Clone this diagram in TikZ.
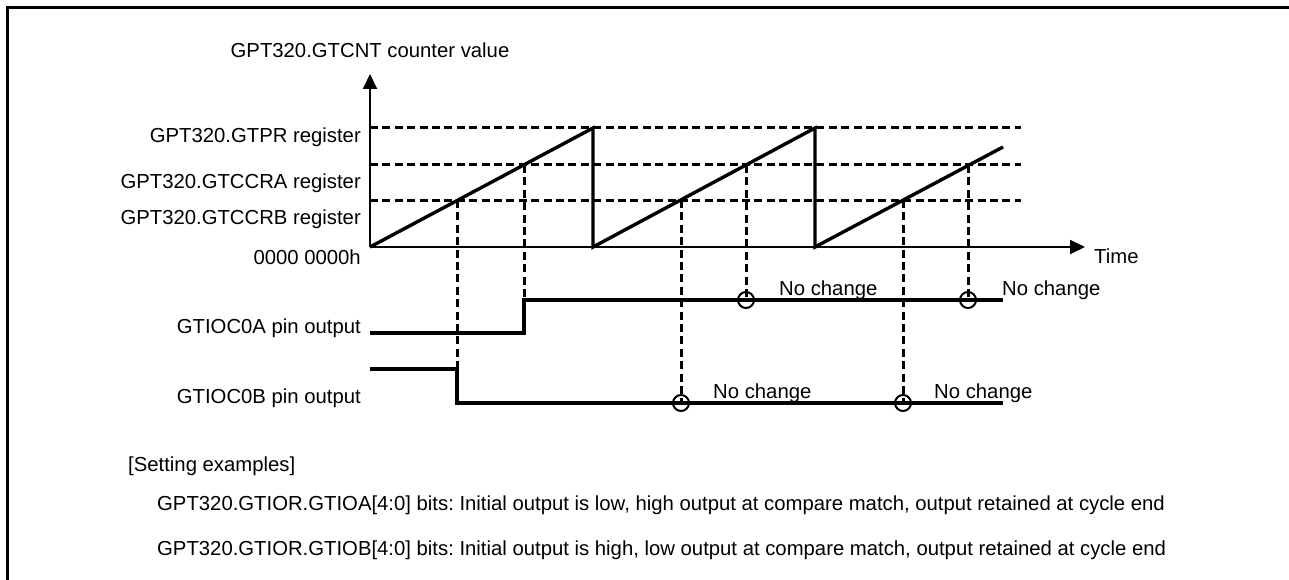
\documentclass[tikz,border=0pt]{standalone}
\usepackage{fontspec}
\setmainfont{Liberation Sans}
\frenchspacing
\usetikzlibrary{arrows.meta,positioning,calc}

\begin{document}
\begin{tikzpicture}[x=1pt, y=-1pt,
  lbl/.style={font=\fontsize{20.3}{24}\selectfont, inner sep=0pt},
  axis/.style={line width=2pt, -{Triangle[length=15pt, width=14pt]}},
  wave/.style={line width=3.4pt, line join=miter},
  guide/.style={line width=3pt, dash pattern=on 8pt off 4.4pt},
  ring/.style={draw, circle, line width=2pt, minimum size=16pt, inner sep=0pt}
]
  \useasboundingbox (0,0) rectangle (1289,580);
  \draw[line width=3pt, line join=miter] (7,580) -- (7,7.5) -- (1289,7.5);

  % axes
  \coordinate (O)    at (370,247);
  \coordinate (ytop) at (370,74);
  \coordinate (xend) at (1085,247);
  \draw[axis] (O) -- (ytop);
  \draw[axis] (O) -- (xend);
  \node[lbl, anchor=base]      (ttl)  at (370,58)  {GPT320.GTCNT counter value};
  \node[lbl, anchor=base west] (time) at (1094,263) {Time};

  % register levels
  \coordinate (pr) at (1021,128);
  \coordinate (ra) at (1021,165);
  \coordinate (rb) at (1021,200);
  \draw[guide] (O |- pr) -- (pr);
  \draw[guide] (O |- ra) -- (ra);
  \draw[guide] (O |- rb) -- (rb);
  \node[lbl, anchor=base east] (lpr)  at (361,143) {GPT320.GTPR register};
  \node[lbl, anchor=base east] (lra)  at (361,189) {GPT320.GTCCRA register};
  \node[lbl, anchor=base east] (lrb)  at (361,224) {GPT320.GTCCRB register};
  \node[lbl, anchor=base east] (lzero) at (361,264) {0000 0000h};

  % counter
  \coordinate (p1) at (593,128);
  \coordinate (p2) at (815,128);
  \coordinate (p3) at (1003,147);
  \draw[wave] (O) -- (p1) -- (p1 |- O) -- (p2) -- (p2 |- O) -- (p3);

  % compare match points
  \coordinate (b1) at (457,200);
  \coordinate (a1) at (524,165);
  \coordinate (b2) at (681,200);
  \coordinate (a2) at (746,165);
  \coordinate (b3) at (903,200);
  \coordinate (a3) at (968,165);

  % pin outputs
  \coordinate (Alow)  at (370,333);
  \coordinate (Ahigh) at (1003,300);
  \coordinate (Bhigh) at (370,369);
  \coordinate (Blow)  at (1003,403);
  \node[lbl, anchor=base east] (lpa) at (361,333) {GTIOC0A pin output};
  \node[lbl, anchor=base east] (lpb) at (361,403) {GTIOC0B pin output};
  \draw[wave] (Alow) -- (Alow -| a1) -- (a1 |- Ahigh) -- (Ahigh);
  \draw[wave] (Bhigh) -- (Bhigh -| b1) -- (b1 |- Blow) -- (Blow);

  \node[ring] (ca2) at (a2 |- Ahigh) {};
  \node[ring] (ca3) at (a3 |- Ahigh) {};
  \node[ring] (cb2) at (b2 |- Blow) {};
  \node[ring] (cb3) at (b3 |- Blow) {};

  \draw[guide] (b1) -- (b1 |- Bhigh);
  \draw[guide] (a1) -- (a1 |- Ahigh);
  \draw[guide] (a2) -- (ca2.center);
  \draw[guide] (a3) -- (ca3.center);
  \draw[guide] (b2) -- (cb2.center);
  \draw[guide] (b3) -- (cb3.center);

  \node[lbl, anchor=base west] (nca2) at ([xshift=24pt, yshift=5pt]ca2.east) {No change};
  \node[lbl, anchor=base west] (nca3) at ([xshift=25pt, yshift=5pt]ca3.east) {No change};
  \node[lbl, anchor=base west] (ncb2) at ([xshift=23pt, yshift=5pt]cb2.east) {No change};
  \node[lbl, anchor=base west] (ncb3) at ([xshift=22pt, yshift=5pt]cb3.east) {No change};

  % setting examples
  \node[lbl, anchor=base west] (set)  at (128,471) {{[}Setting examples]};
  \node[lbl, anchor=base west] (setA) at (157,510)
    {GPT320.GTIOR.GTIOA[4:0] bits: Initial output is low, high output at compare match, output retained at cycle end};
  \node[lbl, anchor=base west] (setB) at (157,555)
    {GPT320.GTIOR.GTIOB[4:0] bits: Initial output is high, low output at compare match, output retained at cycle end};
\end{tikzpicture}
\end{document}
